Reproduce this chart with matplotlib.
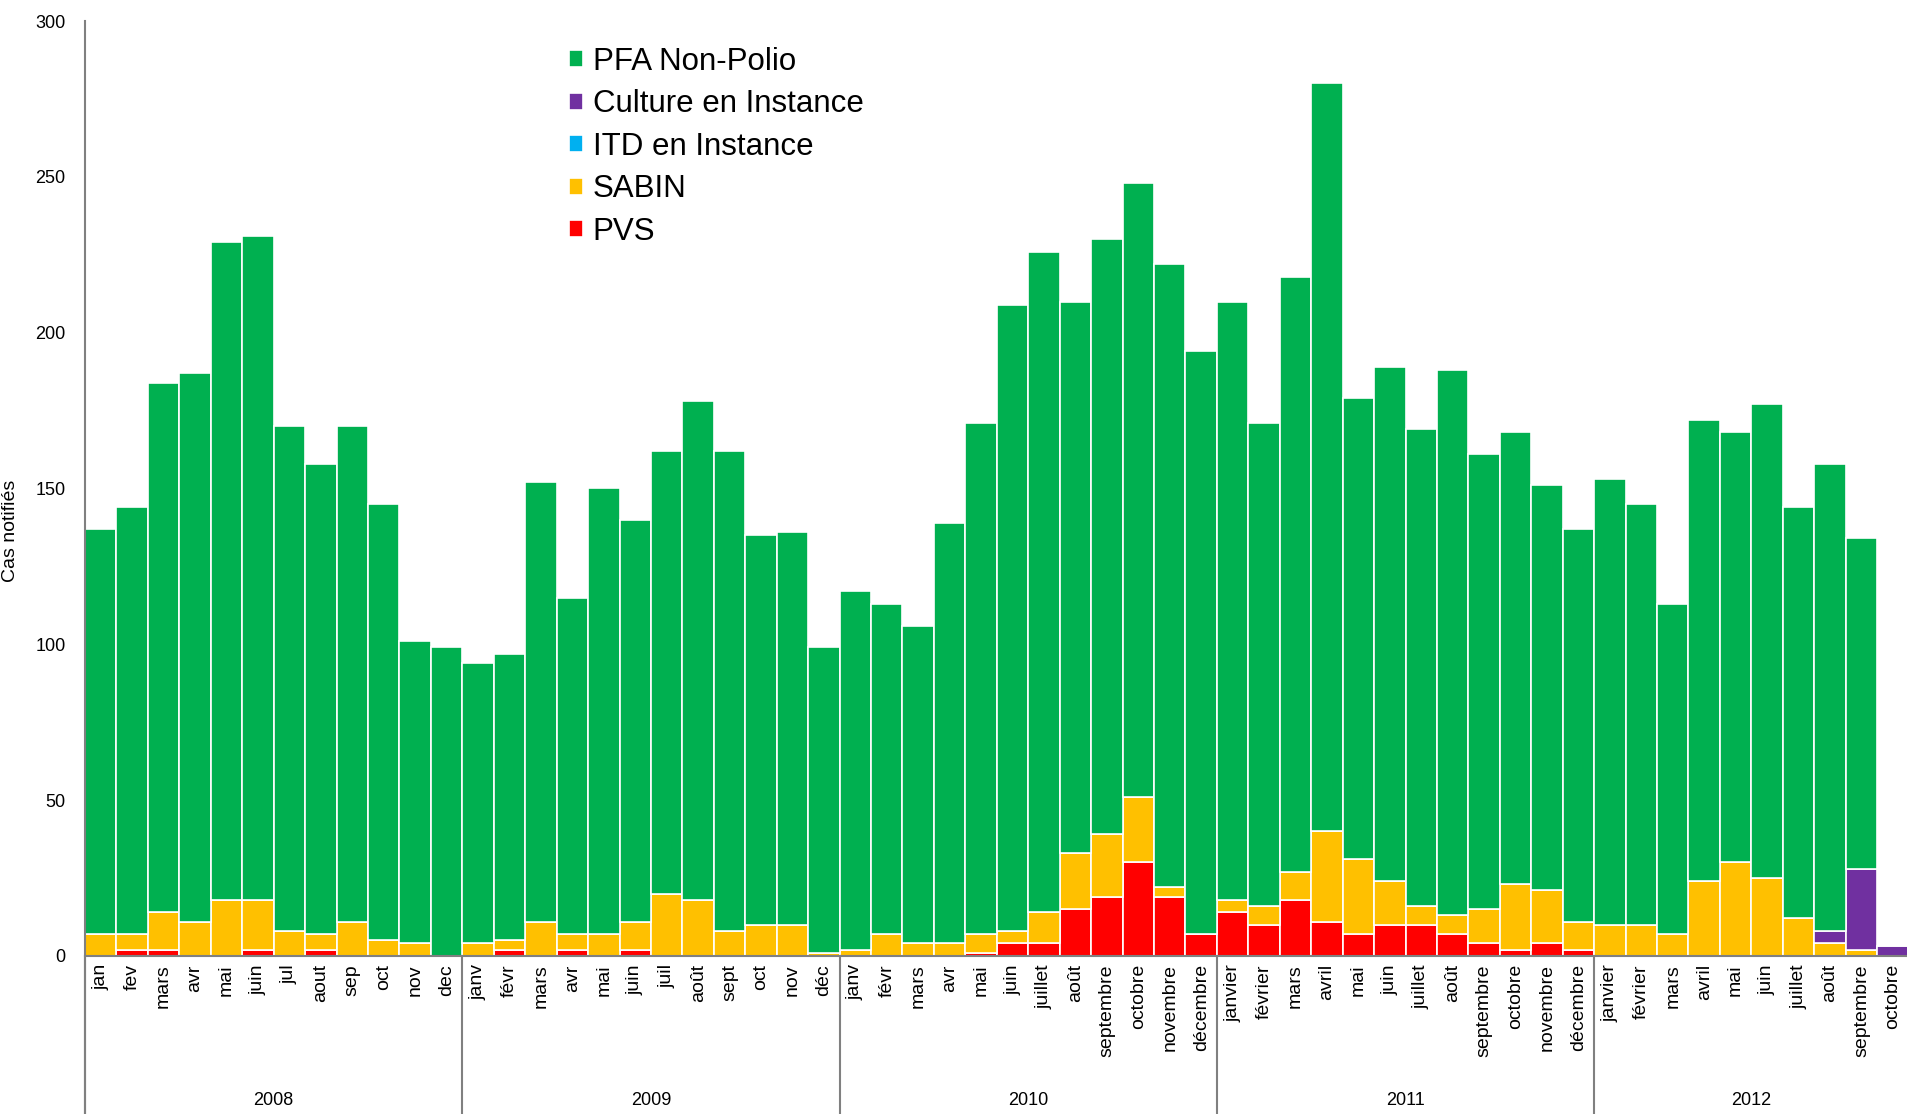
import numpy as np
from matplotlib import pyplot as plt

years = ['2008', '2009', '2010', '2011', '2012']
months = [
    'jan', 'fev', 'mars', 'avr', 'mai', 'juin', 'jul', 'aout', 'sep', 'oct', 'nov', 'dec',
    'janv', 'févr', 'mars', 'avr', 'mai', 'juin', 'juil', 'août', 'sept', 'oct', 'nov', 'déc',
    'janv', 'févr', 'mars', 'avr', 'mai', 'juin', 'juillet', 'août', 'septembre', 'octobre', 'novembre', 'décembre',
    'janvier', 'février', 'mars', 'avril', 'mai', 'juin', 'juillet', 'août', 'septembre', 'octobre', 'novembre', 'décembre',
    'janvier', 'février', 'mars', 'avril', 'mai', 'juin', 'juillet', 'août', 'septembre', 'octobre',
]
months_per_year = [12, 12, 12, 12, 10]

# total notified cases per month (top of the stack)
totals = [
    137, 144, 184, 187, 229, 231, 170, 158, 170, 145, 101, 99,
    94, 97, 152, 115, 150, 140, 162, 178, 162, 135, 136, 99,
    117, 113, 106, 139, 171, 209, 226, 210, 230, 248, 222, 194,
    210, 171, 218, 280, 179, 189, 169, 188, 161, 168, 151, 137,
    153, 145, 113, 172, 168, 177, 144, 158, 134, 3,
]
pvs = [
    0, 2, 2, 0, 0, 2, 0, 2, 0, 0, 0, 0,
    0, 2, 0, 2, 0, 2, 0, 0, 0, 0, 0, 0,
    0, 0, 0, 0, 1, 4, 4, 15, 19, 30, 19, 7,
    14, 10, 18, 11, 7, 10, 10, 7, 4, 2, 4, 2,
    0, 0, 0, 0, 0, 0, 0, 0, 0, 0,
]
sabin = [
    7, 5, 12, 11, 18, 16, 8, 5, 11, 5, 4, 0,
    4, 3, 11, 5, 7, 9, 20, 18, 8, 10, 10, 1,
    2, 7, 4, 4, 6, 4, 10, 18, 20, 21, 3, 0,
    4, 6, 9, 29, 24, 14, 6, 6, 11, 21, 17, 9,
    10, 10, 7, 24, 30, 25, 12, 4, 2, 0,
]
itd = [0] * 58
culture = [
    0, 0, 0, 0, 0, 0, 0, 0, 0, 0, 0, 0,
    0, 0, 0, 0, 0, 0, 0, 0, 0, 0, 0, 0,
    0, 0, 0, 0, 0, 0, 0, 0, 0, 0, 0, 0,
    0, 0, 0, 0, 0, 0, 0, 0, 0, 0, 0, 0,
    0, 0, 0, 0, 0, 0, 0, 4, 26, 3,
]

pfa = [t - p - s - i - c for t, p, s, i, c in zip(totals, pvs, sabin, itd, culture)]

plt.rcParams['font.family'] = ['Liberation Sans', 'DejaVu Sans']

fig = plt.figure(figsize=(19.07, 11.14), dpi=100)
ax = fig.add_axes([0.0446, 0.142, 0.9554, 0.839])

x = np.arange(len(months))
series = [
    ('PVS', pvs, '#FF0000'),
    ('SABIN', sabin, '#FFC000'),
    ('ITD en Instance', itd, '#00B0F0'),
    ('Culture en Instance', culture, '#7030A0'),
    ('PFA Non-Polio', pfa, '#00B050'),
]
bottom = np.zeros(len(months))
handles = []
for name, vals, col in series:
    b = ax.bar(x, vals, width=1.0, bottom=bottom, color=col, edgecolor='white',
               linewidth=1.2, label=name)
    handles.append(b)
    bottom += np.array(vals)

ax.set_xlim(-0.5, 57.45)
ax.set_ylim(0, 300)
ax.set_yticks(range(0, 301, 50))
ax.tick_params(axis='y', length=0, labelsize=13, pad=14)
ax.set_xticks(x)
ax.set_xticklabels(months, rotation=90, fontsize=14)
ax.tick_params(axis='x', length=0, pad=6)

for s in ['top', 'right']:
    ax.spines[s].set_visible(False)
ax.spines['left'].set_color('#808080')
ax.spines['bottom'].set_color('#808080')
ax.spines['left'].set_linewidth(1.5)
ax.spines['bottom'].set_linewidth(1.5)
ax.spines['left'].set_bounds(-60, 300)

# year separators and labels below the month labels
edge = -0.5
for yr, n in zip(years, months_per_year):
    ax.plot([edge, edge], [0, -60], color='#808080', lw=1.5, clip_on=False)
    ax.text(edge + n / 2, -46.5, yr, ha='center', va='center', fontsize=13)
    edge += n

ax.set_ylabel('Cas notifiés', fontsize=14)
ax.yaxis.set_label_coords(-0.036, 0.455)

order = [4, 3, 2, 1, 0]
leg = ax.legend([handles[i] for i in order], [series[i][0] for i in order],
                loc='upper left', bbox_to_anchor=(0.259, 0.986), frameon=False,
                fontsize=22.5, handlelength=0.45, handleheight=0.45, handletextpad=0.3,
                labelspacing=0.4, borderaxespad=0)

fig.savefig('out.png', dpi=100)
